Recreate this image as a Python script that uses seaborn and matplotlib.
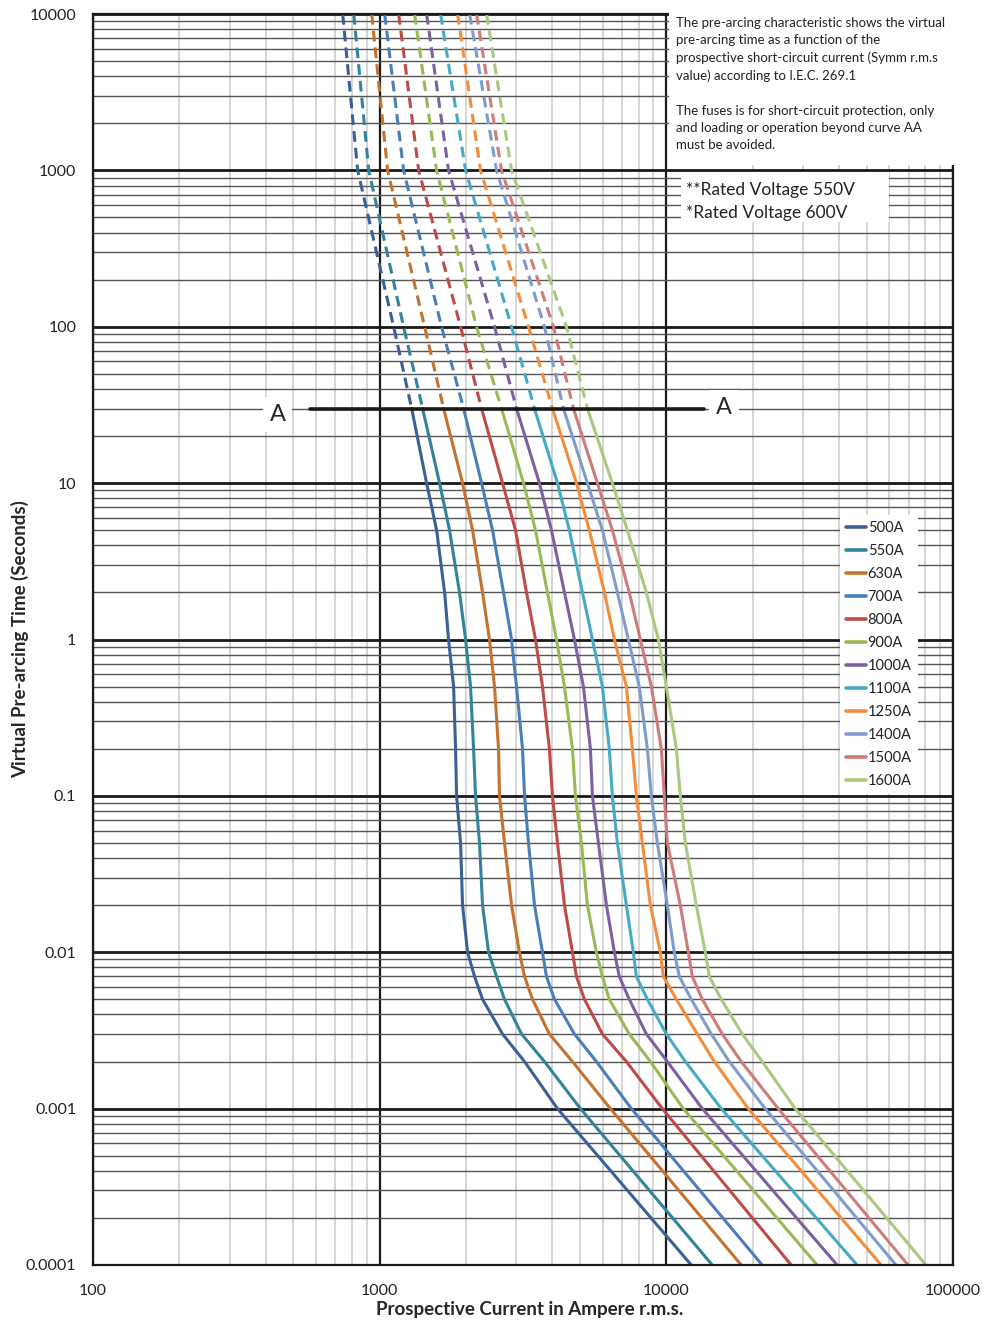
import numpy as np
import pandas as pd
import matplotlib
matplotlib.use("Agg")
import matplotlib.pyplot as plt
from matplotlib.lines import Line2D
from matplotlib.patches import Rectangle
from matplotlib.ticker import FixedLocator, LogLocator, NullFormatter
import seaborn as sb

# pre-arcing time levels (seconds) at which each curve was read
times = [10000, 1000, 100, 30, 10, 5, 2, 1, 0.5, 0.2, 0.1, 0.05, 0.02,
         0.01, 0.007, 0.005, 0.003, 0.002, 0.001, 0.0001]

# prospective current (A r.m.s.) for each fuse rating at the levels above
i500 = [743, 838, 1119, 1293, 1458, 1580, 1685, 1739, 1811, 1840, 1855, 1915, 1946,
        2026, 2143, 2285, 2683, 3201, 4171, 12220]
i550 = [812, 916, 1212, 1412, 1618, 1753, 1899, 1994, 2075, 2126, 2160, 2230, 2285,
        2398, 2557, 2726, 3125, 3757, 5016, 14460]
i630 = [938, 1066, 1435, 1671, 1946, 2109, 2285, 2416, 2516, 2598, 2618, 2726, 2884,
        3073, 3201, 3413, 3909, 4704, 6381, 18250]
i700 = [1041, 1212, 1644, 1962, 2267, 2476, 2704, 2884, 3002, 3150, 3201, 3305, 3468,
        3698, 3818, 4072, 4780, 5703, 7551, 21600]
i800 = [1165, 1368, 1915, 2267, 2683, 2978, 3252, 3496, 3698, 3909, 4007, 4171, 4412,
        4704, 4858, 5180, 5984, 7254, 9684, 27260]
i900 = [1324, 1580, 2178, 2661, 3176, 3496, 3849, 4138, 4412, 4704, 4819, 5056, 5305,
        5703, 5984, 6325, 7425, 8796, 11460, 33590]
i1000 = [1458, 1739, 2516, 3002, 3608, 3975, 4412, 4780, 5138, 5435, 5523, 5795, 6180,
         6590, 6853, 7425, 8518, 10080, 13350, 39430]
i1100 = [1631, 1994, 2884, 3468, 4171, 4589, 5097, 5523, 5984, 6325, 6483, 6750, 7254,
         7674, 7861, 8587, 10000, 11650, 15550, 46290]
i1250 = [1870, 2248, 3305, 4007, 4858, 5388, 6081, 6590, 7254, 7612, 7861, 8248, 8796,
         9530, 9760, 10840, 12820, 14700, 19310, 56130]
i1400 = [2059, 2557, 3757, 4377, 5305, 5984, 6750, 7372, 8045, 8587, 8867, 9304, 10080,
         10660, 11100, 12220, 14350, 16580, 22130, 63250]
i1500 = [2178, 2661, 4040, 4742, 5748, 6483, 7425, 8118, 8867, 9607, 9840, 10080, 11190,
         11930, 12320, 13350, 15670, 18250, 24560, 69700]
i1600 = [2360, 2884, 4483, 5305, 6483, 7314, 8518, 9379, 10000, 10840, 11190, 11650, 12720,
         13670, 14120, 15550, 18400, 21600, 28150, 80450]

ratings = ["500A", "550A", "630A", "700A", "800A", "900A",
           "1000A", "1100A", "1250A", "1400A", "1500A", "1600A"]
curves = [i500, i550, i630, i700, i800, i900, i1000, i1100, i1250, i1400, i1500, i1600]
colors = ["#3A6195", "#31849B", "#C4722F", "#4A7EBB", "#BE4B48", "#98B954",
          "#7D60A0", "#46AAC5", "#F38D3C", "#7E9CCE", "#CF7B79", "#A9C97E"]

# curve AA (limit for loading) and its end labels
aa_time = 30
aa_current = [570, 13500]

xticks = [100, 1000, 10000, 100000]
yticks = [0.0001, 0.001, 0.01, 0.1, 1, 10, 100, 1000, 10000]
ytick_labels = ["0.0001", "0.001", "0.01", "0.1", "1", "10", "100", "1000", "10000"]

note_text = ("The pre-arcing characteristic shows the virtual\n"
             "pre-arcing time as a function of the\n"
             "prospective short-circuit current (Symm r.m.s\n"
             "value) according to I.E.C. 269.1\n"
             "\n"
             "The fuses is for short-circuit protection, only\n"
             "and loading or operation beyond curve AA\n"
             "must be avoided.")
voltage_text = "**Rated Voltage 550V\n*Rated Voltage 600V"

rows = []
for r, cur in zip(ratings, curves):
    for t, c in zip(times, cur):
        rows.append({"rating": r, "current": c, "time": t})
df = pd.DataFrame(rows)
palette = dict(zip(ratings, colors))

sb.set_style("white")
plt.rcParams["font.family"] = ["Lato", "DejaVu Sans"]

fig = plt.figure(figsize=(9.84, 13.2), dpi=100)
ax = fig.add_axes([93 / 984, 55 / 1320, 860 / 984, 1251 / 1320])

# dashed above curve AA, solid below
upper = df[df["time"] >= aa_time]
lower = df[df["time"] <= aa_time]
sb.lineplot(data=upper, x="current", y="time", hue="rating", palette=palette,
            estimator=None, sort=False, lw=2.2, linestyle=(0, (3.5, 2.0)),
            legend=False, ax=ax)
sb.lineplot(data=lower, x="current", y="time", hue="rating", palette=palette,
            estimator=None, sort=False, lw=2.2, legend=False, ax=ax)

ax.set_xscale("log")
ax.set_yscale("log")
ax.set_xlim(100, 100000)
ax.set_ylim(0.0001, 10000)

ax.xaxis.set_major_locator(FixedLocator(xticks))
ax.set_xticklabels([str(v) for v in xticks])
ax.yaxis.set_major_locator(FixedLocator(yticks))
ax.set_yticklabels(ytick_labels)
ax.xaxis.set_minor_locator(LogLocator(base=10, subs=np.arange(2, 10)))
ax.yaxis.set_minor_locator(LogLocator(base=10, subs=np.arange(2, 10)))
ax.xaxis.set_minor_formatter(NullFormatter())
ax.yaxis.set_minor_formatter(NullFormatter())
ax.tick_params(which="both", length=0, labelsize=11.5, colors="#222222")
ax.tick_params(axis="y", pad=12)
ax.tick_params(axis="x", pad=14)

ax.set_axisbelow(True)
ax.grid(which="minor", axis="x", color="#d0d0d0", lw=1.2)
ax.grid(which="minor", axis="y", color="#555555", lw=1.0)
ax.grid(which="major", axis="x", color="#1a1a1a", lw=1.6)
ax.grid(which="major", axis="y", color="#1a1a1a", lw=2.0)
for s in ax.spines.values():
    s.set_color("#1a1a1a")
    s.set_linewidth(1.6)

ax.set_xlabel("Prospective Current in Ampere r.m.s.", fontsize=13.5, fontweight="bold")
ax.set_ylabel("Virtual Pre-arcing Time (Seconds)", fontsize=13.5, fontweight="bold")
ax.xaxis.set_label_coords(0.508, -0.029)
ax.yaxis.set_label_coords(-0.074, 0.5)

# curve AA
ax.plot(aa_current, [aa_time, aa_time], color="#1a1a1a", lw=2.6, zorder=4)
ax.text(440, 27.5, "A", fontsize=17, ha="center", va="center", zorder=5,
        bbox=dict(facecolor="white", edgecolor="none", pad=5))
ax.text(15900, 30.5, "A", fontsize=17, ha="center", va="center", zorder=5,
        bbox=dict(facecolor="white", edgecolor="none", pad=5))

# note box top right
ax.add_patch(Rectangle((0.6698, 0.8793), 0.40, 0.15, transform=ax.transAxes,
                       facecolor="white", edgecolor="none", clip_on=False, zorder=6))
ax.text(0.678, 0.9975, note_text, transform=ax.transAxes, fontsize=9.5,
        va="top", ha="left", linespacing=1.52, color="#222222", zorder=7)

ax.add_patch(Rectangle((0.6837, 0.8337), 0.2419, 0.0400, transform=ax.transAxes,
                       facecolor="white", edgecolor="none", zorder=6))
ax.text(0.6895, 0.8500, voltage_text, transform=ax.transAxes, fontsize=12.5,
        va="center", ha="left", linespacing=1.57, color="#222222", zorder=7)

handles = [Line2D([0], [0], color=c, lw=2.6) for c in colors]
leg = ax.legend(handles, ratings, loc="upper left", bbox_to_anchor=(0.8686, 0.5995),
                fontsize=10.5, frameon=True, fancybox=False, framealpha=1,
                facecolor="white", edgecolor="none", handlelength=1.4,
                handletextpad=0.1, labelspacing=0.62, borderpad=0.4,
                borderaxespad=0)
for t in leg.get_texts():
    t.set_color("#222222")

plt.savefig("out.png", dpi=100)
